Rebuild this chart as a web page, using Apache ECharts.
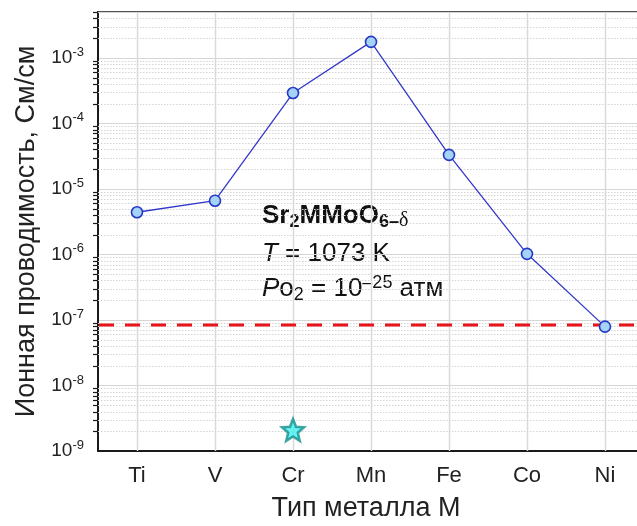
<!DOCTYPE html>
<html>
<head>
<meta charset="utf-8">
<script src="https://cdn.jsdelivr.net/npm/echarts@6/dist/echarts.min.js"></script>
<style>
  html, body { margin: 0; padding: 0; background: #fff; }
  #chart { width: 637px; height: 526px; }
</style>
</head>
<body>
<div id="chart"></div>
<script>
// данные
const categories = ['Ti', 'V', 'Cr', 'Mn', 'Fe', 'Co', 'Ni'];
const ionicConductivity = [4.4e-6, 6.6e-6, 2.9e-4, 1.75e-3, 3.3e-5, 1.02e-6, 7.9e-8];
const starValues = [null, null, 2.1e-9, null, null, null, null];
const referenceLevel = 8.4e-8;
const yMin = 1e-9;
const yMax = 5e-3;
const minorMultipliers = [2, 3, 4, 5, 6, 7, 8, 9];

const FONT = 'Liberation Sans, Arial, sans-serif';
const starPath = 'path://M50 0 L62.93 32.2 L97.55 34.55 L70.92 56.8 L79.39 90.45 L50 72 L20.61 90.45 L29.08 56.8 L2.45 34.55 L37.07 32.2 Z';

const chart = echarts.init(document.getElementById('chart'));

// сетка: вертикальные линии, малые деления лог. шкалы
const renderGrid = (params, api) => {
    const cs = params.coordSys;
    const children = [];
    for (let i = 0; i < categories.length; i++) {
        const x = Math.round(api.coord([i, yMin])[0]) + 0.5;
        children.push({
            type: 'line',
            shape: {x1: x, y1: cs.y, x2: x, y2: cs.y + cs.height},
            style: {stroke: '#dadada', lineWidth: 1.5}
        });
    }
    for (let e = -9; e <= -3; e++) {
        for (const k of minorMultipliers) {
            const v = k * Math.pow(10, e);
            if (v > yMax) break;
            const y = Math.round(api.coord([0, v])[1]) + 0.5;
            children.push({
                type: 'line',
                shape: {x1: cs.x, y1: y, x2: cs.x + cs.width, y2: y},
                style: {stroke: '#d4d4d4', lineWidth: 1, lineDash: [1.5, 1.5]}
            });
            children.push({
                type: 'line',
                shape: {x1: cs.x - 5, y1: y, x2: cs.x, y2: y},
                style: {stroke: '#1a1a1a', lineWidth: 1.2}
            });
        }
    }
    return {type: 'group', children: children};
};

// красная пунктирная линия уровня
const renderRefLine = (params, api) => {
    const cs = params.coordSys;
    const y = api.coord([0, api.value(1)])[1];
    return {
        type: 'line',
        shape: {x1: cs.x + 1, y1: y, x2: cs.x + cs.width, y2: y},
        style: {stroke: '#e8141c', lineWidth: 3, lineDash: [15, 11]}
    };
};

const option = {
    animation: false,
    backgroundColor: '#fff',
    grid: {
        left: 98,
        top: 12,
        width: 546,
        bottom: 75,
        outerBoundsMode: 'none',
        containLabel: false,
        show: true,
        borderColor: '#1a1a1a',
        borderWidth: 1.5
    },
    xAxis: {
        type: 'category',
        data: categories,
        name: 'Тип металла М',
        nameLocation: 'middle',
        nameGap: 44,
        nameTextStyle: {fontFamily: FONT, fontSize: 27, color: '#222', padding: [0, 10, 0, 0]},
        axisLine: {lineStyle: {color: '#1a1a1a', width: 2}},
        axisTick: {alignWithLabel: true, length: 6, lineStyle: {width: 1.5, color: '#1a1a1a'}},
        axisLabel: {fontFamily: FONT, fontSize: 22, color: '#222', margin: 14},
        splitLine: {show: false}
    },
    yAxis: {
        type: 'log',
        logBase: 10,
        min: yMin,
        max: yMax,
        splitNumber: 7,
        name: 'Ионная проводимость, См/см',
        nameLocation: 'middle',
        nameGap: 58,
        nameTextStyle: {fontFamily: FONT, fontSize: 27, color: '#222'},
        axisLine: {show: true, lineStyle: {color: '#1a1a1a', width: 2}},
        axisTick: {length: 9, lineStyle: {width: 1.5, color: '#1a1a1a'}},
        axisLabel: {
            margin: 14,
            formatter: (v) => {
                const p = Math.log10(v);
                const e = Math.round(p);
                if (Math.abs(p - e) > 1e-6) return '';
                return '{b|10}{sup|' + e + '}';
            },
            rich: {
                b: {fontFamily: FONT, fontSize: 19, color: '#222', lineHeight: 24},
                sup: {fontFamily: FONT, fontSize: 13, color: '#222', lineHeight: 13, verticalAlign: 'top'}
            }
        },
        splitLine: {show: true, lineStyle: {color: '#d6d6d6', width: 1.2}}
    },
    series: [
        {
            id: 'minorGrid',
            type: 'custom',
            z: 1,
            clip: false,
            silent: true,
            renderItem: renderGrid,
            data: [[0, yMin]]
        },
        {
            id: 'refLine',
            type: 'custom',
            z: 2,
            clip: false,
            silent: true,
            renderItem: renderRefLine,
            data: [[0, referenceLevel]]
        },
        {
            id: 'conductivity',
            type: 'line',
            z: 3,
            data: ionicConductivity,
            symbol: 'circle',
            symbolSize: 11,
            lineStyle: {color: '#3338c8', width: 1.3},
            itemStyle: {color: '#a4d3f6', borderColor: '#2438c8', borderWidth: 1.6}
        },
        {
            id: 'star',
            type: 'scatter',
            z: 3,
            data: starValues,
            symbol: starPath,
            symbolSize: 22,
            itemStyle: {color: '#45eeee', borderColor: '#15908f', borderWidth: 2.5}
        }
    ],
    graphic: [
        {
            type: 'text',
            x: 262, y: 216,
            style: {
                text: '{b|Sr}{bs|2}{b|MMoO}{bs|6–}{d|δ}',
                verticalAlign: 'middle',
                rich: {
                    b: {fontFamily: FONT, fontSize: 26, fontWeight: 'bold', fill: '#111', lineHeight: 30},
                    bs: {fontFamily: FONT, fontSize: 18, fontWeight: 'bold', fill: '#111', lineHeight: 16, verticalAlign: 'bottom'},
                    d: {fontFamily: 'Liberation Serif, serif', fontSize: 20, fill: '#111', lineHeight: 16, verticalAlign: 'bottom'}
                }
            }
        },
        {
            type: 'text',
            x: 262, y: 254,
            style: {
                text: '{i|T}{n| = 1073 K}',
                verticalAlign: 'middle',
                rich: {
                    i: {fontFamily: FONT, fontSize: 26, fontStyle: 'italic', fill: '#111', lineHeight: 30},
                    n: {fontFamily: FONT, fontSize: 26, fill: '#111', lineHeight: 30}
                }
            }
        },
        {
            type: 'text',
            x: 262, y: 289,
            style: {
                text: '{i|P}{n|o}{s|2}{n| = 10}{sup|–25}{n| атм}',
                verticalAlign: 'middle',
                rich: {
                    i: {fontFamily: FONT, fontSize: 26, fontStyle: 'italic', fill: '#111', lineHeight: 30},
                    n: {fontFamily: FONT, fontSize: 26, fill: '#111', lineHeight: 30},
                    s: {fontFamily: FONT, fontSize: 18, fill: '#111', lineHeight: 18, verticalAlign: 'bottom'},
                    sup: {fontFamily: FONT, fontSize: 18, fill: '#111', lineHeight: 18, verticalAlign: 'top'}
                }
            }
        }
    ]
};

chart.setOption(option);
</script>
</body>
</html>
